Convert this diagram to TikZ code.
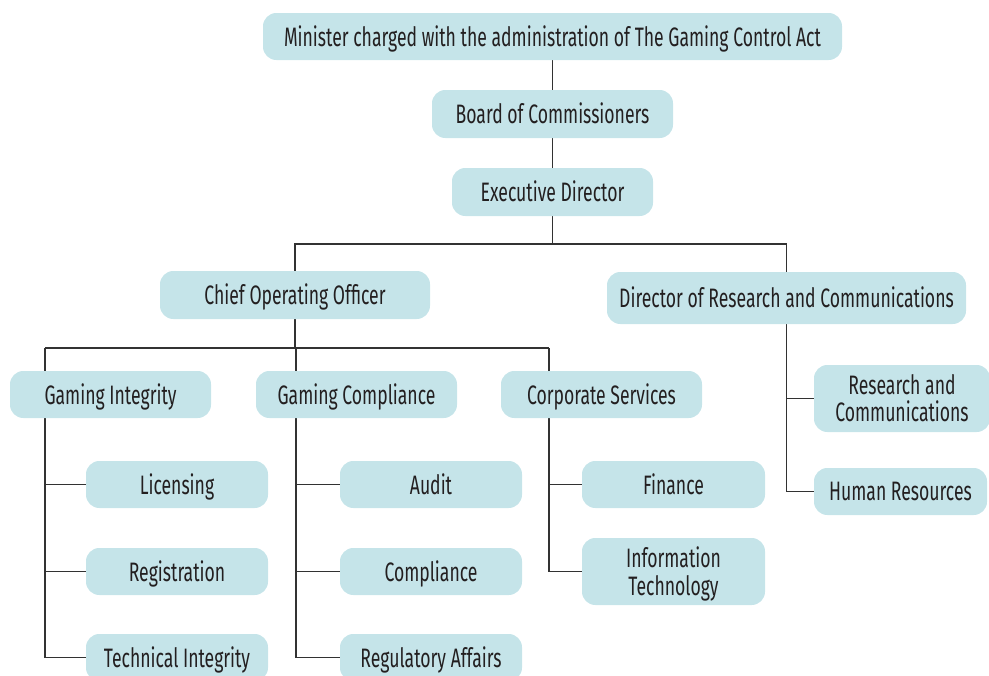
\documentclass[tikz,border=0pt]{standalone}
\usepackage{fontspec}
\setmainfont{Fira Sans}[FakeStretch=0.66]
\usetikzlibrary{backgrounds}
\definecolor{boxfill}{RGB}{197,228,233}
\definecolor{linec}{RGB}{50,50,50}
\definecolor{txt}{RGB}{35,31,32}
\tikzset{
  orgbox/.style={fill=boxfill, draw=none, rounded corners=10pt, inner sep=0pt},
  orgtext/.style={inner sep=0pt, align=center, text=txt, font=\fontsize{20}{20.5}\selectfont, yshift=-1.8pt},
  conn/.style={draw=linec, line width=1.1pt}
}
\newcommand\bx[6]{\node[orgbox, minimum width=#4*0.75pt, minimum height=#5*0.75pt] (#1) at (#2,#3) {};
\node[orgtext] (#1t) at (#1.center) {\vphantom{Apg}#6\vphantom{Apg}};}
\begin{document}
\begin{tikzpicture}[x=0.75pt,y=-0.75pt]
\useasboundingbox (0,0) rectangle (989,675);
\clip (0,0) rectangle (989,675);
\bx{min}{552.5}{36.5}{579}{47}{Minister charged with the administration of The Gaming Control Act}
\bx{board}{552.5}{114}{241}{48}{Board of Commissioners}
\bx{exec}{552.5}{192}{201}{48}{Executive Director}
\bx{coo}{295}{295}{270}{48}{Chief Operating Officer}
\bx{dir}{786.5}{298}{359}{52}{Director of Research and Communications}
\bx{gi}{110.5}{394.5}{201}{47}{Gaming Integrity}
\bx{gc}{356.5}{394.5}{201}{47}{Gaming Compliance}
\bx{cs}{601.5}{394.5}{201}{47}{Corporate Services}
\bx{lic}{177}{484.5}{182}{47}{Licensing}
\bx{reg}{177}{571.5}{182}{47}{Registration}
\bx{tech}{177}{657.5}{182}{47}{Technical Integrity}
\bx{aud}{431}{484.5}{182}{47}{Audit}
\bx{comp}{431}{571.5}{182}{47}{Compliance}
\bx{reg2}{431}{657.5}{182}{47}{Regulatory Affairs}
\bx{fin}{673.5}{484.5}{183}{47}{Finance}
\bx{it}{673.5}{571.5}{183}{67}{Information\\Technology}
\bx{rc}{902}{398.5}{176}{67}{Research and\\Communications}
\bx{hr}{900.5}{491.5}{173}{47}{Human Resources}
\coordinate (j1) at (552.5,244);
\coordinate (b1) at (45,348);
\coordinate (b2) at (296,348);
\coordinate (b3) at (549,348);
\coordinate (d1) at (786,348);
\begin{scope}[on background layer]
\draw[conn] (min) -- (board);
\draw[conn] (board) -- (exec);
\draw[conn] (exec) -- (j1);
\draw[conn] (j1) -| (coo);
\draw[conn] (j1) -| (dir);
\draw[conn] (coo) -- (coo |- b1);
\draw[conn] (b1) -- (b3);
\draw[conn] (b1) |- (tech.west);
\draw[conn] (b1 |- lic) -- (lic.west);
\draw[conn] (b1 |- reg) -- (reg.west);
\draw[conn] (b2) |- (reg2.west);
\draw[conn] (b2 |- aud) -- (aud.west);
\draw[conn] (b2 |- comp) -- (comp.west);
\draw[conn] (b3) |- (it.west);
\draw[conn] (b3 |- fin) -- (fin.west);
\draw[conn] (dir) |- (hr.west);
\draw[conn] (d1 |- rc) -- (rc.west);
\end{scope}
\end{tikzpicture}
\end{document}
